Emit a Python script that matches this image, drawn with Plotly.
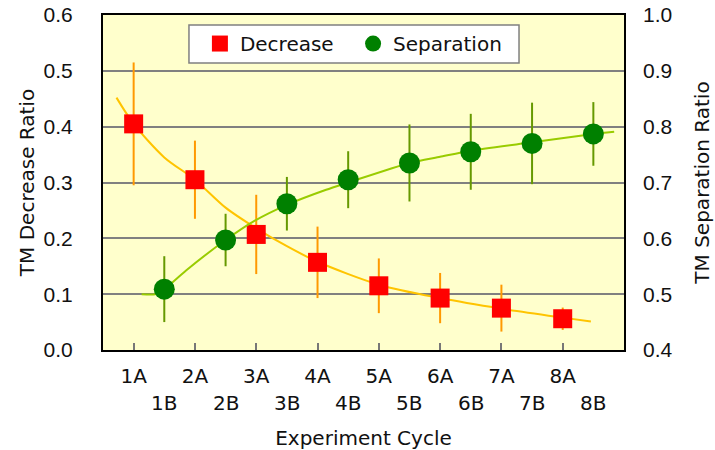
import plotly.graph_objects as go

# Cycle positions: A runs sit on whole numbers, B runs half-way between
a_labels = ["1A", "2A", "3A", "4A", "5A", "6A", "7A", "8A"]
b_labels = ["1B", "2B", "3B", "4B", "5B", "6B", "7B", "8B"]
a_pos = [1, 2, 3, 4, 5, 6, 7, 8]
b_pos = [1.5, 2.5, 3.5, 4.5, 5.5, 6.5, 7.5, 8.5]

# TM decrease ratio (left axis) with error
decrease = [0.405, 0.305, 0.207, 0.157, 0.115, 0.093, 0.075, 0.056]
decrease_err = [0.110, 0.070, 0.071, 0.064, 0.049, 0.045, 0.042, 0.020]

# TM separation ratio (right axis) with error
separation = [0.509, 0.597, 0.662, 0.705, 0.735, 0.755, 0.770, 0.787]
separation_err = [0.059, 0.047, 0.048, 0.051, 0.069, 0.068, 0.073, 0.057]

# Trend curves
dec_fit_x = [0.72, 1.0, 1.5, 2.0, 2.5, 3.0, 3.5, 4.0, 5.0, 6.0, 7.0, 8.0, 8.46]
dec_fit_y = [0.452, 0.405, 0.345, 0.305, 0.255, 0.218, 0.186, 0.158, 0.117, 0.093, 0.074, 0.058, 0.051]
sep_fit_x = [1.13, 1.35, 1.5, 1.86, 2.5, 2.95, 3.5, 4.14, 4.5, 5.5, 6.0, 6.5, 7.5, 8.5, 8.84]
sep_fit_y = [0.500, 0.500, 0.509, 0.543, 0.597, 0.630, 0.660, 0.687, 0.700, 0.735, 0.746, 0.757, 0.772, 0.787, 0.791]

FONT = "DejaVu Sans"
NUM_FONT = "Liberation Sans"
FS = 20
TXT = "#111111"

fig = go.Figure()

fig.add_trace(go.Scatter(
    x=dec_fit_x, y=dec_fit_y, mode="lines", yaxis="y",
    line=dict(color="#FFC400", width=2, shape="spline", smoothing=0.8),
    showlegend=False, hoverinfo="skip"))
fig.add_trace(go.Scatter(
    x=sep_fit_x, y=sep_fit_y, mode="lines", yaxis="y2",
    line=dict(color="#99CC00", width=2, shape="spline", smoothing=0.6),
    showlegend=False, hoverinfo="skip"))

fig.add_trace(go.Scatter(
    x=a_pos, y=decrease, mode="markers", name="Decrease", yaxis="y", legend="legend",
    marker=dict(symbol="square", size=19, color="#FF0000", line=dict(width=0)),
    error_y=dict(type="data", array=decrease_err, color="#FF9900", thickness=2, width=0)))
fig.add_trace(go.Scatter(
    x=b_pos, y=separation, mode="markers", name="Separation", yaxis="y2", legend="legend2",
    marker=dict(symbol="circle", size=21, color="#008000", line=dict(width=0)),
    error_y=dict(type="data", array=separation_err, color="#669900", thickness=2, width=0)))

# second row of cycle labels under the axis
for xp, lab in zip(b_pos, b_labels):
    fig.add_annotation(x=xp, y=0, xref="x", yref="paper", text=lab, showarrow=False,
                       yanchor="top", yshift=-39, font=dict(family=FONT, size=FS, color=TXT))

# white framed box holding the legend entries
fig.add_shape(type="rect", xref="paper", yref="paper",
              x0=0.165, x1=0.7985, y0=0.857, y1=0.970,
              fillcolor="white", line=dict(color="#808080", width=1.5), layer="above")

legend_style = dict(orientation="h", y=0.973, xanchor="left", yanchor="top",
                    bgcolor="rgba(0,0,0,0)", borderwidth=0,
                    font=dict(family=FONT, size=FS), itemsizing="trace")

fig.update_layout(
    width=715, height=450,
    margin=dict(l=103, r=91, t=15, b=100, autoexpand=False),
    paper_bgcolor="white", plot_bgcolor="#FFFFCC",
    font=dict(family=FONT, size=FS, color=TXT),
    xaxis=dict(range=[0.5, 9], tickvals=a_pos, ticktext=a_labels, automargin=False,
               ticks="inside", ticklen=7, tickwidth=2, tickcolor="#777",
               showgrid=False, zeroline=False,
               showline=True, linecolor="black", linewidth=2, mirror=True,
               ticklabelstandoff=7,
               title=dict(text="Experiment Cycle", standoff=44, font=dict(size=FS))),
    yaxis=dict(range=[0, 0.6], dtick=0.1, tickformat=".1f", automargin=False,
               tickfont=dict(family=NUM_FONT, size=21),
               showgrid=True, gridcolor="#808080", gridwidth=1.5, zeroline=False,
               showline=True, linecolor="black", linewidth=2, mirror=True,
               ticks="", ticklabelstandoff=24,
               title=dict(text="TM Decrease Ratio", standoff=4, font=dict(size=FS))),
    yaxis2=dict(range=[0.4, 1.0], dtick=0.1, tickformat=".1f", overlaying="y", side="right",
                automargin=False, tickfont=dict(family=NUM_FONT, size=21),
                showgrid=False, zeroline=False, showline=False, ticks="",
                ticklabelstandoff=18,
                title=dict(text="TM Separation Ratio", standoff=23, font=dict(size=FS))),
    legend=dict(x=0.186, **legend_style),
    legend2=dict(x=0.480, **legend_style),
)

fig.write_html("out.html")
